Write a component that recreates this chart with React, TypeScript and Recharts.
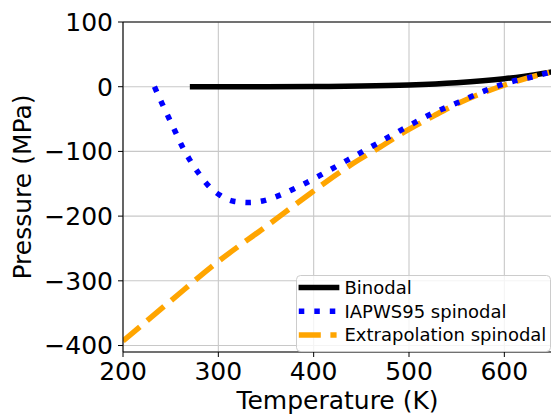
import { CartesianGrid, Legend, Line, LineChart, ReferenceLine, XAxis, YAxis } from "recharts";

// saturation line (binodal)
const binodalT = [273, 300, 350, 400, 450, 500, 550, 600, 620, 640, 647];
const binodalP = [0.0006, 0.0035, 0.042, 0.25, 0.93, 2.64, 6.12, 12.3, 15.9, 20.3, 22.1];

// IAPWS95 spinodal
const iapwsT = [233, 241, 248, 255, 262, 270, 279, 289, 301, 316, 332, 348, 364, 379, 393, 408, 436, 465, 493, 522, 552, 582, 613, 629, 647];
const iapwsP = [0, -26, -48, -70, -92, -113, -133, -152, -167, -177, -179, -176, -168, -158, -148, -136, -113, -89, -66, -43, -24, -5, 10, 15, 22];

// extrapolated spinodal
const extrapT = [200, 250, 300, 350, 390, 414, 442, 470, 498, 526, 554, 582, 609, 637, 647];
const extrapP = [-393, -331, -270, -216, -172, -146, -118, -93, -67.5, -45, -24, -7, 6.7, 18.5, 22];

const xTicks = [200, 300, 400, 500, 600];
const yTicks = [-400, -300, -200, -100, 0, 100];

const legendLabels = ["Binodal", "IAPWS95 spinodal", "Extrapolation spinodal"];

const zip = (t: number[], p: number[]) => t.map((T, i) => ({ T, P: p[i] }));

const FONT = "DejaVu Sans";
const fmt = (v: number) => (v < 0 ? `\u2212${Math.abs(v)}` : `${v}`);

const legendStyles = [
  { color: "#000000", dash: undefined, cap: "square" as const, x1: 5.3 },
  { color: "#0000ff", dash: "5.5 10", cap: "butt" as const, x1: 2.8 },
  { color: "#ffa500", dash: "22 9.6", cap: "butt" as const, x1: 2.8 },
];

function LegendBox() {
  return (
    <svg width={255} height={77} style={{ display: "block" }}>
      <rect x={0.5} y={0.5} width={254} height={76} rx={4} fill="rgba(255,255,255,0.8)" stroke="#cccccc" />
      {legendLabels.map((label, i) => {
        const s = legendStyles[i];
        const y = 12.5 + i * 23.8;
        return (
          <g key={label}>
            <line x1={s.x1} x2={40.6} y1={y} y2={y} stroke={s.color} strokeWidth={5.5} strokeDasharray={s.dash} strokeLinecap={s.cap} />
            <text x={48.5} y={y + 6.2} fontSize={18} fill="#000" fontFamily={FONT}>
              {label}
            </text>
          </g>
        );
      })}
    </svg>
  );
}

export default function App() {
  return (
    <div style={{ position: "absolute", left: 0, top: 0, width: 551, height: 415, overflow: "hidden", fontFamily: FONT, background: "#fff" }}>
      <LineChart width={552} height={415} margin={{ top: 22, right: 0, bottom: 0, left: 0 }}>
        <CartesianGrid stroke="#c8c8c8" strokeWidth={1.1} />
        <XAxis
          type="number"
          dataKey="T"
          domain={[200, 650]}
          ticks={xTicks}
          interval={0}
          allowDataOverflow
          height={63}
          tickSize={5}
          tickMargin={5}
          tick={{ fill: "#000", fontSize: 25, fontFamily: FONT }}
          tickLine={{ stroke: "#000" }}
          axisLine={{ stroke: "#000", strokeWidth: 1.1 }}
          label={{ value: "Temperature (K)", position: "insideBottom", offset: 6, fill: "#000", fontSize: 25, fontFamily: FONT }}
        />
        <YAxis
          type="number"
          domain={[-410, 100]}
          ticks={yTicks}
          interval={0}
          allowDataOverflow
          width={123}
          tickSize={5}
          tickMargin={5}
          tickFormatter={fmt}
          tick={{ fill: "#000", fontSize: 25, fontFamily: FONT }}
          tickLine={{ stroke: "#000" }}
          axisLine={{ stroke: "#000", strokeWidth: 1.1 }}
          label={{
            value: "Pressure (MPa)",
            angle: -90,
            position: "insideLeft",
            offset: 22,
            fill: "#000",
            fontSize: 25,
            fontFamily: FONT,
            style: { textAnchor: "middle" },
          }}
        />
        <ReferenceLine y={100} stroke="#000" strokeWidth={1.1} />
        <Line
          data={zip(binodalT, binodalP)}
          dataKey="P"
          name="Binodal"
          type="monotone"
          stroke="#000000"
          strokeWidth={5.5}
          strokeLinecap="square"
          dot={false}
          isAnimationActive={false}
        />
        <Line
          data={zip(extrapT, extrapP)}
          dataKey="P"
          name="Extrapolation spinodal"
          type="monotone"
          stroke="#ffa500"
          strokeWidth={5.5}
          strokeDasharray="22 9.6"
          dot={false}
          isAnimationActive={false}
        />
        <Line
          data={zip(iapwsT, iapwsP)}
          dataKey="P"
          name="IAPWS95 spinodal"
          type="monotone"
          stroke="#0000ff"
          strokeWidth={5.5}
          strokeDasharray="5.5 10"
          dot={false}
          isAnimationActive={false}
        />
        <Legend
          layout="vertical"
          align="center"
          verticalAlign="middle"
          content={() => <LegendBox />}
          wrapperStyle={{ left: 295.7, top: 275, right: "auto", bottom: "auto", width: 255, height: 77 }}
        />
      </LineChart>
    </div>
  );
}
